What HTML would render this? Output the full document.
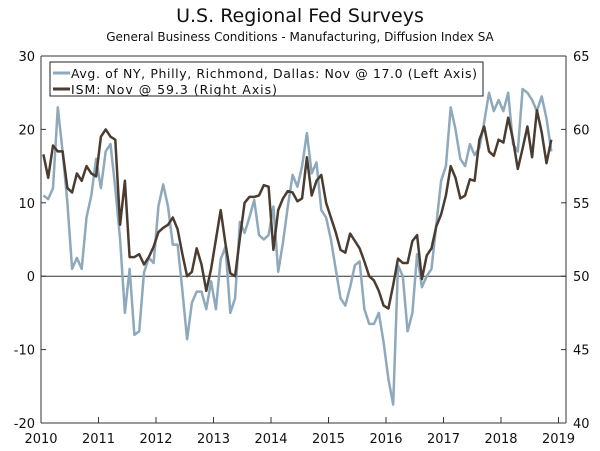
<!DOCTYPE html>
<html><head><meta charset="utf-8">
<style>
body{margin:0;background:#fff;}
svg{display:block;font-family:"DejaVu Sans","Liberation Sans",sans-serif;}
</style></head>
<body>
<svg id="chart" width="600" height="451" viewBox="0 0 600 451">
<text x="300" y="22" text-anchor="middle" font-size="19" fill="#111">U.S. Regional Fed Surveys</text>
<text x="300" y="41" text-anchor="middle" font-size="12" fill="#111">General Business Conditions - Manufacturing, Diffusion Index SA</text>
<g id="axes"></g>
<g id="series"></g>
<g>
<rect x="50" y="62" width="433" height="34" fill="#fff" stroke="#222" stroke-width="1"/>
<line x1="53" y1="73" x2="70" y2="73" stroke="#8da9bb" stroke-width="3"/>
<text x="71" y="78" font-size="12.5" fill="#111" textLength="406" lengthAdjust="spacing">Avg. of NY, Philly, Richmond, Dallas: Nov @ 17.0  (Left Axis)</text>
<line x1="53" y1="89" x2="70" y2="89" stroke="#4a3c30" stroke-width="3"/>
<text x="71" y="94" font-size="12.5" fill="#111" textLength="206" lengthAdjust="spacing">ISM: Nov @ 59.3  (Right Axis)</text>
</g>
</svg>
<script>
const leftTicks=[-20,-10,0,10,20,30];
const rightTicks=[40,45,50,55,60,65];
const yearTicks=[2010,2011,2012,2013,2014,2015,2016,2017,2018,2019];
const avgSeries=[11,10.5,12,23,17,10,1,2.5,1,8,11,16,
12,17,18,12,5,-5,1,-8,-7.5,0.5,2.5,1.8,
9.5,12.5,9.5,4.3,4.3,-2,-8.6,-3.6,-2.1,-2.1,-4.5,-0.7,
-4.5,2.3,4,-5,-3,7.4,5.9,8,10.4,5.6,5,5.6,
9.5,0.6,4.6,9.5,13.8,12.2,15,19.5,14,15.5,9,8,
5,1,-3,-4,-1.5,1.5,2,-4.5,-6.5,-6.5,-5,-9,
-14,-17.5,1.5,0,-7.5,-5,3,-1.5,0,1,7,13,
15,23,20,16,15,18,16.5,17.5,21,25,22.5,24,
22.5,25,18,17,25.5,25,24,22.5,24.5,21.5,17];
const ismSeries=[58.3,56.7,58.9,58.5,58.5,56,55.7,57,56.5,57.5,57,56.8,
59.5,60,59.5,59.3,53.5,56.5,51.3,51.3,51.5,50.8,51.3,52,
53,53.3,53.5,54,53.2,51.5,50,50.3,51.9,50.8,49,50.5,
52.5,54.5,52.2,50.2,50,52.6,55,55.4,55.4,55.5,56.2,56.1,
51.8,54.5,55.3,55.8,55.7,55.1,55.3,58.1,55.5,56.5,56.9,55,
54.0,53.0,51.8,51.6,52.9,52.4,51.9,51.0,50.0,49.7,49.0,48.0,
47.8,49.4,51.2,50.9,50.9,52.4,52.8,49.8,51.4,51.9,53.4,54.2,
55.5,57.5,56.7,55.3,55.5,56.6,56.5,59.3,60.2,58.5,58.2,59.3,
59.1,60.8,59.3,57.3,58.7,60.2,58.1,61.3,59.8,57.7,59.3];
const X0=41,X1=566,Y0=56,Y1=423;
const xYear=y=>41+(y-2010)*57.5;
const xIdx=i=>xYear(2010+(i+0.5)/12);
const yL=v=>Y1-(v+20)/50*(Y1-Y0);
const yR=v=>Y1-(v-40)/25*(Y1-Y0);
const NS="http://www.w3.org/2000/svg";
function mk(t,a,p){const e=document.createElementNS(NS,t);for(const k in a)e.setAttribute(k,a[k]);p.appendChild(e);return e;}
const ax=document.getElementById('axes'),se=document.getElementById('series');
let e;
e=mk('line',{x1:X0,y1:Y0,x2:X0,y2:Y1,stroke:'#333'},ax);


e=mk('line',{x1:X1,y1:Y0,x2:X1,y2:Y1,stroke:'#333'},ax);


e=mk('line',{x1:X0,y1:Y0,x2:X1,y2:Y0,stroke:'#333'},ax);


e=mk('line',{x1:X0,y1:Y1,x2:X1,y2:Y1,stroke:'#333'},ax);


e=mk('line',{x1:X0,y1:yL(0),x2:X1,y2:yL(0),stroke:'#333'},ax);


leftTicks.forEach(v=>{const y=yL(v);
 mk('line',{x1:X0,y1:y,x2:X0+5,y2:y,stroke:'#333'},ax);
 e=mk('text',{x:X0-6,y:y+5,'text-anchor':'end','font-size':13,fill:'#111'},ax);e.textContent=v;
 
 });
rightTicks.forEach(v=>{const y=yR(v);
 mk('line',{x1:X1-5,y1:y,x2:X1,y2:y,stroke:'#333'},ax);
 e=mk('text',{x:X1+7,y:y+5,'font-size':13,fill:'#111'},ax);e.textContent=v;
 
 });
yearTicks.forEach(v=>{const x=xYear(v);
 mk('line',{x1:x,y1:Y1-6,x2:x,y2:Y1,stroke:'#333'},ax);
 e=mk('text',{x:x,y:Y1+20,'text-anchor':'middle','font-size':13,fill:'#111'},ax);e.textContent=v;
 
 });
e=mk('polyline',{points:avgSeries.map((v,i)=>xIdx(i).toFixed(1)+','+yL(v).toFixed(1)).join(' '),fill:'none',stroke:'#8da9bb','stroke-width':2.5,'stroke-linejoin':'round'},se);


e=mk('polyline',{points:ismSeries.map((v,i)=>xIdx(i).toFixed(1)+','+yR(v).toFixed(1)).join(' '),fill:'none',stroke:'#4a3c30','stroke-width':2.5,'stroke-linejoin':'round'},se);


</script>
</body></html>
